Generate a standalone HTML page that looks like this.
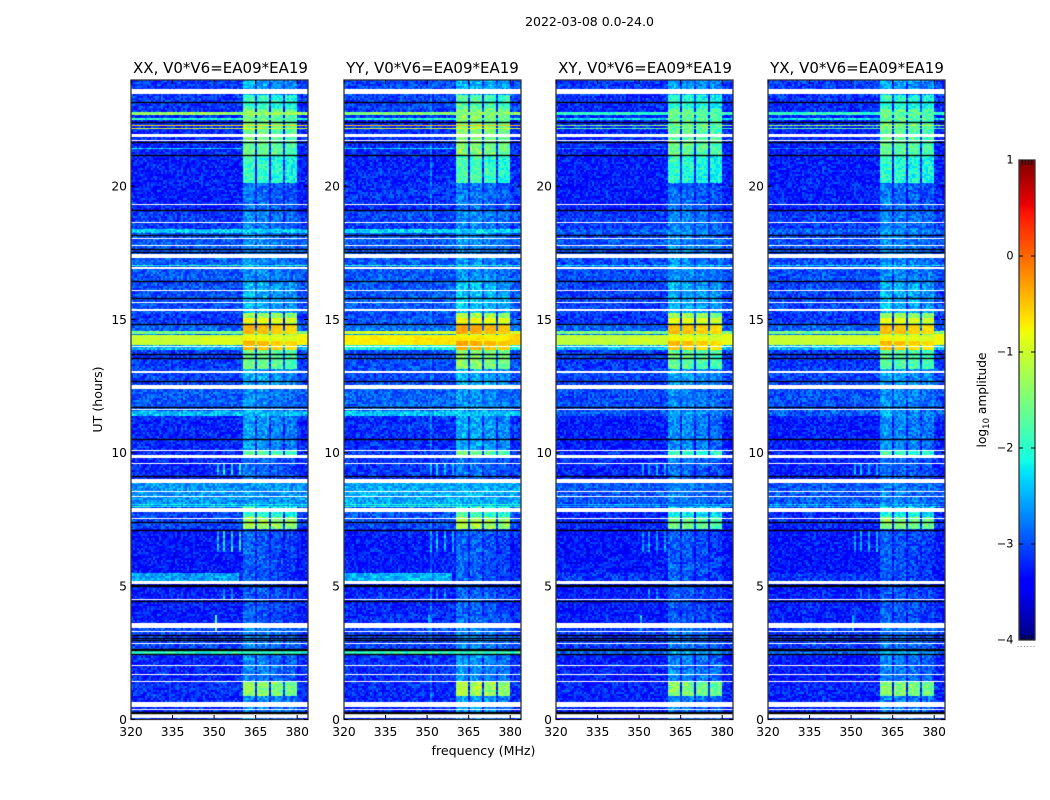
<!DOCTYPE html>
<html lang="en">
<head>
<meta charset="utf-8">
<title>2022-03-08 0.0-24.0</title>
<style>
html,body{margin:0;padding:0;background:#fff;}
#figure{position:relative;width:1050px;height:800px;overflow:hidden;background:#fff;font-family:"DejaVu Sans","Liberation Sans",sans-serif;}
canvas{position:absolute;display:block;}
svg{position:absolute;left:0;top:0;}
svg text{font-family:"DejaVu Sans","Liberation Sans",sans-serif;fill:#000;}
</style>
</head>
<body>
<div id="figure">
<svg id="overlay" width="1050" height="800" viewBox="0 0 1050 800"></svg>
</div>
<script>
// ---- Categories and tick labels ----
const panelTitles = ["XX, V0*V6=EA09*EA19", "YY, V0*V6=EA09*EA19", "XY, V0*V6=EA09*EA19", "YX, V0*V6=EA09*EA19"];
const freqTicks = [320, 335, 350, 365, 380];
const utTicks = [0, 5, 10, 15, 20];
const colorbarTicks = [1, 0, -1, -2, -3, -4];

// ---- Time bands (UT hours): edges, then log10 amplitude per band ----
const bandEdges = [0,0.9,1.42,2.49,2.6,3.45,5.21,7.18,7.6,8.0,8.9,9.94,10.1,11.4,11.6,12.43,13.16,13.86,14.06,14.2,14.36,14.42,14.46,14.6,14.8,14.87,15.06,15.27,16.45,18.26,18.43,19.1,20.15,21.17,22.9,23.45,24];
const backgroundXX = [-3.2,-3.15,-3.2,-2.0,-3.05,-3.25,-3.3,-3.05,-3.05,-2.65,-3.2,-3.15,-3.2,-2.45,-2.95,-3.05,-3.1,-2.5,-1.05,-1.05,-1.05,-2.8,-1.55,-2.9,-3.1,-3.1,-3.1,-3.0,-2.95,-2.4,-3.1,-3.25,-3.25,-3.2,-3.1,-3.1];
const backgroundYY = [-3.2,-3.15,-3.15,-1.9,-3.05,-3.2,-3.25,-3.0,-3.0,-2.55,-3.1,-3.1,-3.15,-2.4,-2.9,-3.0,-3.0,-2.1,-0.72,-0.72,-0.72,-2.6,-0.95,-2.8,-3.0,-3.0,-3.0,-2.95,-2.95,-2.3,-3.05,-3.15,-3.2,-3.15,-3.05,-3.05];
const backgroundXY = [-3.25,-3.2,-3.25,-2.85,-3.1,-3.25,-3.3,-3.2,-3.2,-2.95,-3.2,-3.2,-3.25,-2.95,-3.0,-3.05,-3.1,-2.5,-1.1,-1.1,-1.1,-2.8,-1.5,-2.9,-3.1,-3.1,-3.1,-3.05,-3.0,-2.9,-3.1,-3.25,-3.25,-3.2,-3.15,-3.1];
const backgroundYX = [-3.25,-3.2,-3.25,-2.85,-3.1,-3.25,-3.3,-3.2,-3.2,-2.95,-3.2,-3.2,-3.25,-2.95,-3.0,-3.05,-3.1,-2.45,-1.05,-1.05,-1.05,-2.8,-1.5,-2.9,-3.1,-3.1,-3.1,-3.05,-3.0,-2.9,-3.1,-3.25,-3.25,-3.2,-3.15,-3.1];
const chunkXX = [-2.7,-1.4,-2.75,-2.2,-2.75,-2.95,-2.95,-1.3,-2.0,-2.65,-2.85,-1.7,-2.65,-2.55,-2.7,-2.55,-1.6,-0.5,-0.45,-0.8,-0.9,-1.2,-0.45,-0.45,-1.5,-0.8,-1.3,-2.5,-2.7,-2.55,-2.75,-2.85,-1.95,-1.6,-1.95,-2.55];
const chunkYY = [-2.6,-1.2,-2.65,-2.1,-2.7,-2.9,-2.9,-1.2,-1.9,-2.55,-2.8,-1.6,-2.55,-2.45,-2.65,-2.5,-1.4,-0.4,-0.35,-0.7,-0.8,-1.1,-0.35,-0.35,-1.3,-0.75,-1.2,-2.4,-2.65,-2.45,-2.7,-2.8,-1.85,-1.45,-1.75,-2.5];
const chunkXY = [-2.75,-1.5,-2.75,-2.45,-2.8,-2.95,-2.95,-1.6,-2.2,-2.75,-2.85,-1.9,-2.7,-2.6,-2.7,-2.6,-1.7,-0.55,-0.45,-0.8,-0.9,-1.2,-0.45,-0.5,-1.5,-0.85,-1.3,-2.5,-2.7,-2.65,-2.75,-2.85,-2.0,-1.65,-2.0,-2.6];
const chunkYX = [-2.75,-1.45,-2.75,-2.45,-2.8,-2.95,-2.95,-1.5,-2.15,-2.75,-2.85,-1.85,-2.7,-2.6,-2.7,-2.6,-1.7,-0.55,-0.45,-0.8,-0.9,-1.2,-0.45,-0.5,-1.5,-0.85,-1.3,-2.5,-2.7,-2.65,-2.75,-2.85,-2.0,-1.65,-2.0,-2.6];

// ---- Frequency chunks (MHz) where the band-limited signal lives ----
const chunkStartMHz = [360.4, 365.7, 370.5, 375.5];
const chunkEndMHz = [365, 370, 375, 380];
const chunkOffsets = [0.05, 0, -0.08, -0.15];

// ---- Localised features: UT start, UT end, MHz start, MHz end, level XX, YY, XY, YX ----
const featureA = [5.21,5.5,320,359,-2.6,-2.5,-3.1,-3.1];
const featureB = [22.69,22.8,320,384,-1.3,-1.4,-2.0,-1.9];
const featureC = [22.5,22.56,320,384,-2.0,-2.0,-2.3,-2.3];
const featureD = [22.27,22.33,320,384,-0.6,-0.45,-1.4,-1.3];
const featureE = [22.15,22.2,320,384,-0.95,-0.9,-1.7,-1.6];
const featureF = [21.41,21.45,320,360,-2.3,-2.3,-2.8,-2.8];
const featureG = [17.04,17.08,320,384,-2.0,-2.0,-2.3,-2.3];
const featureH = [8.05,8.09,320,384,-2.1,-2.0,-2.5,-2.5];
const featureI = [7.97,8.02,320,384,-2.1,-2.0,-2.5,-2.5];
const featureJ = [14.06,14.36,345,360,-0.92,-0.66,-1.0,-0.95];
const featureK = [14.06,14.46,380,384,-0.75,-0.55,-0.85,-0.8];
const featureL = [3.3,3.95,350,350.7,-1.7,-2.6,-2.3,-2.5];
const featureM = [0,24,351,351.7,-3.5,-2.8,-3.5,-3.5];
const featureN = [6.3,7.1,350.9,351.6,-2.5,-2.6,-2.7,-2.7];
const featureO = [6.3,7.1,353.3,354,-2.3,-2.5,-2.6,-2.6];
const featureP = [6.3,7.1,356,356.7,-2.3,-2.5,-2.6,-2.6];
const featureQ = [6.3,7.1,358.7,359.4,-2.3,-2.5,-2.6,-2.6];
const featureR = [9.2,9.6,351,351.7,-2.4,-2.5,-2.6,-2.6];
const featureS = [9.2,9.6,353.3,354,-2.2,-2.4,-2.5,-2.5];
const featureT = [9.2,9.6,356,356.7,-2.2,-2.4,-2.5,-2.5];
const featureU = [9.2,9.6,358.7,359.4,-2.2,-2.4,-2.5,-2.5];
const featureV = [4.55,4.9,353.3,354,-2.6,-2.7,-2.8,-2.8];
const featureW = [4.55,4.9,356,356.7,-2.6,-2.7,-2.8,-2.8];
const cellFeatures = [featureA,featureB,featureC,featureD,featureE,featureF,featureG,featureH,featureI,featureJ,featureK,featureL,featureM,featureN,featureO,featureP,featureQ,featureR,featureS,featureT,featureU,featureV,featureW];

// ---- Flagged (white) intervals and zero-amplitude (black) lines in UT hours ----
const flaggedStarts = [0.07,0.37,0.49,1.44,1.69,2.02,2.85,3.29,3.45,4.5,5.09,7.55,7.8,8.35,8.55,8.89,9.6,9.81,10.08,11.64,12.43,13.03,14.0,15.34,15.64,16.09,16.93,17.31,17.79,18.04,18.63,19.31,21.71,21.88,21.94,23.46];
const flaggedEnds = [0.24,0.41,0.67,1.48,1.73,2.06,2.89,3.33,3.64,4.54,5.21,7.59,7.96,8.39,8.59,9.05,9.64,9.94,10.12,11.68,12.58,13.07,14.04,15.41,15.68,16.13,16.97,17.49,17.83,18.08,18.67,19.35,21.75,21.92,21.98,23.67];
const blackLines = [0.28,0.31,2.47,2.62,2.66,3.01,3.08,3.19,4.46,5.02,5.06,7.14,7.42,9.15,10.52,11.75,12.71,13.59,13.74,14.85,15.84,16.45,17.55,17.65,18.2,19.11,21.17,21.67,22.41,23.19];

// Hand-written per-cell scatter: individual cell noise cannot be read from the picture, so this short zero-mean pattern is repeated for texture.
const cellScatter = [-0.22,0.08,0.31,-0.12,-0.3,0.15,0.02,-0.18,0.42,-0.05,-0.26,0.2,-0.1,0.05,-0.33,0.26,-0.15,0.11,0.36,-0.24,-0.02,0.17,-0.29,0.07,-0.14,0.3,-0.08,-0.2,0.12,0.22,-0.35,0.03,0.19,-0.11,-0.27,0.38,-0.06,0.09,-0.17,0.24,-0.31,0.14,-0.04,0.28,-0.21,-0.09,0.06,0.33,-0.25,0.01,-0.13,0.16,-0.19];

const panelBackgrounds = [backgroundXX, backgroundYY, backgroundXY, backgroundYX];
const panelChunks = [chunkXX, chunkYY, chunkXY, chunkYX];

// ---- Layout and axis functions ----
const panelLefts = [131, 344, 556, 768];
const titleCenters = [220.5, 432.5, 645, 857];
const panelW = 177, panelH = 640, panelTop = 80;
const freqMin = 320, freqMax = 383.9, utMin = 0, utMax = 24;
const cellW = 2, cellH = 1;
function xScale(mhz){ return (mhz - freqMin) / (freqMax - freqMin) * panelW; }
function yScale(ut){ return panelH - (ut - utMin) / (utMax - utMin) * panelH; }
function freqAt(px){ return freqMin + px / panelW * (freqMax - freqMin); }
function utAt(py){ return utMin + (panelH - py) / panelH * (utMax - utMin); }

// ---- Jet colormap over log10 amplitude -4..1 ----
function ramp(stops, t){
  for (let i = 1; i < stops.length; i++){
    if (t <= stops[i][0]){
      const a = stops[i-1], b = stops[i];
      return a[1] + (b[1]-a[1]) * (t-a[0]) / (b[0]-a[0]);
    }
  }
  return stops[stops.length-1][1];
}
const jetR = [[0,0],[0.35,0],[0.66,1],[0.89,1],[1,0.5]];
const jetG = [[0,0],[0.125,0],[0.375,1],[0.64,1],[0.91,0],[1,0]];
const jetB = [[0,0.5],[0.11,1],[0.34,1],[0.65,0],[1,0]];
function jetColor(t){
  t = Math.max(0, Math.min(1, t));
  return "rgb(" + Math.round(ramp(jetR,t)*255) + "," + Math.round(ramp(jetG,t)*255) + "," + Math.round(ramp(jetB,t)*255) + ")";
}
const colorLut = [];
for (let i = 0; i <= 400; i++) colorLut.push(jetColor(i/400));
function levelColor(level){
  const t = (level + 4) / 5;
  return colorLut[Math.max(0, Math.min(400, Math.round(t*400)))];
}

function bandIndex(ut){
  for (let b = 0; b < bandEdges.length - 1; b++){
    if (ut < bandEdges[b+1]) return b;
  }
  return bandEdges.length - 2;
}
function chunkIndex(mhz){
  for (let c = 0; c < chunkStartMHz.length; c++){
    if (mhz >= chunkStartMHz[c] && mhz <= chunkEndMHz[c]) return c;
  }
  return -1;
}

// ---- Heatmap drawing ----
const figure = document.getElementById("figure");
panelTitles.forEach(function(title, p){
  const canvas = document.createElement("canvas");
  
  
  canvas.width = panelW;
  canvas.height = panelH;
  canvas.style.left = panelLefts[p] + "px";
  canvas.style.top = panelTop + "px";
  figure.insertBefore(canvas, figure.firstChild);
  const ctx = canvas.getContext("2d");
  const bg = panelBackgrounds[p], ch = panelChunks[p];
  for (let py = 0; py < panelH; py += cellH){
    const ut = utAt(py + 0.5);
    const band = bandIndex(ut);
    const r2 = Math.floor(py / 2);
    for (let px = 0; px < panelW; px += cellW){
      const col = px / cellW;
      const mhz = freqAt(px + cellW / 2);
      let level = bg[band];
      const c = chunkIndex(mhz);
      if (c >= 0) level = Math.max(level, ch[band] + chunkOffsets[c]);
      for (let f = 0; f < cellFeatures.length; f++){
        const ft = cellFeatures[f];
        if (ut >= ft[0] && ut < ft[1] && mhz >= ft[2] && mhz < ft[3]) level = Math.max(level, ft[4+p]);
      }
      const k = (col*col*3 + r2*r2*5 + col*r2*7 + col*11 + r2*2 + p*19) % cellScatter.length;
      const amp = level > -1.2 ? 0.25 : 0.9;
      ctx.fillStyle = levelColor(level + cellScatter[k] * amp);
      ctx.fillRect(px, py, cellW, cellH);
    }
  }
  ctx.fillStyle = "#fff";
  flaggedStarts.forEach(function(start, i){
    const y0 = Math.round(yScale(flaggedEnds[i])), y1 = Math.round(yScale(start));
    ctx.fillRect(0, y0, panelW, Math.max(1, y1 - y0));
  });
  ctx.fillStyle = "#000";
  blackLines.forEach(function(ut){
    ctx.fillRect(0, Math.round(yScale(ut)) - 0.2, panelW, 1.4);
  });
});

// ---- SVG annotations ----
const SVGNS = "http://www.w3.org/2000/svg";
const overlay = document.getElementById("overlay");
function svgEl(tag, attrs, parent, txt){
  const el = document.createElementNS(SVGNS, tag);
  for (const key in attrs) el.setAttribute(key, attrs[key]);
  if (txt !== undefined) el.textContent = txt;
  (parent || overlay).appendChild(el);
  return el;
}
panelTitles.forEach(function(title, p){
  const L = panelLefts[p];
  const pol = title.slice(0,2).toLowerCase();
  const g = svgEl("g", {}, overlay);
  
  
  const frame = svgEl("rect", {x:L, y:panelTop, width:panelW, height:panelH-0.5, fill:"none", stroke:"#333", "stroke-width":1.3}, g);
  
  
  const t = svgEl("text", {x:titleCenters[p], y:73, "text-anchor":"middle", "font-size":15}, g, title);
  
  
  freqTicks.forEach(function(v){
    const x = L + xScale(v);
    const b = svgEl("line", {x1:x, x2:x, y1:panelTop+panelH-1, y2:panelTop+panelH-5, stroke:"#000", "stroke-width":1}, g);
    
    
    const u = svgEl("line", {x1:x, x2:x, y1:panelTop, y2:panelTop+4, stroke:"#000", "stroke-width":1}, g);
    
    
    const lab = svgEl("text", {x:x, y:736, "text-anchor":"middle", "font-size":12.3}, g, String(v));
    
    
  });
  utTicks.forEach(function(v){
    const y = panelTop + yScale(v) - 0.5;
    const l = svgEl("line", {x1:L, x2:L+4, y1:y, y2:y, stroke:"#000", "stroke-width":1}, g);
    
    
    const r = svgEl("line", {x1:L+panelW-4, x2:L+panelW, y1:y, y2:y, stroke:"#000", "stroke-width":1}, g);
    
    
    const lab = svgEl("text", {x:L-4, y:y+4.3, "text-anchor":"end", "font-size":12.3}, g, String(v));
    
    
  });
});

const figTitle = svgEl("text", {x:589.5, y:26, "text-anchor":"middle", "font-size":12.5}, overlay, "2022-03-08 0.0-24.0");


const xTitle = svgEl("text", {x:483.5, y:755, "text-anchor":"middle", "font-size":12.6}, overlay, "frequency (MHz)");


const yTitle = svgEl("text", {x:0, y:0, transform:"translate(102,399.5) rotate(-90)", "text-anchor":"middle", "font-size":12.6}, overlay, "UT (hours)");



// ---- Colorbar ----
const cbLeft = 1019, cbTop = 160, cbW = 16, cbH = 480;
function cbScale(v){ return cbTop + (1 - v) / 5 * cbH; }
const cbCanvas = document.createElement("canvas");


cbCanvas.width = cbW;
cbCanvas.height = cbH;
cbCanvas.style.left = cbLeft + "px";
cbCanvas.style.top = cbTop + "px";
figure.insertBefore(cbCanvas, figure.firstChild);
const cbCtx = cbCanvas.getContext("2d");
for (let y = 0; y < cbH; y++){
  cbCtx.fillStyle = jetColor(1 - (y + 0.5) / cbH);
  cbCtx.fillRect(0, y, cbW, 1);
}
const cbGroup = svgEl("g", {}, overlay);


const cbFrame = svgEl("rect", {x:cbLeft, y:cbTop, width:cbW, height:cbH, fill:"none", stroke:"#333", "stroke-width":1.3}, cbGroup);


colorbarTicks.forEach(function(v){
  const y = cbScale(v);
  const lab = svgEl("text", {x:1013.5, y:y+3.5, "text-anchor":"end", "font-size":11.3}, cbGroup, v < 0 ? "\u2212" + Math.abs(v) : String(v));
  
  
  if (v < 1 && v > -4){
    const a = svgEl("line", {x1:cbLeft, x2:cbLeft+4, y1:y, y2:y, stroke:"#000", "stroke-width":1}, cbGroup);
    
    
    const b = svgEl("line", {x1:cbLeft+cbW-4, x2:cbLeft+cbW, y1:y, y2:y, stroke:"#000", "stroke-width":1}, cbGroup);
    
    
  }
});
[0.2, 0.4, 0.6, 0.8].forEach(function(frac){
  const x = cbLeft + frac * cbW;
  const a = svgEl("line", {x1:x, x2:x, y1:cbTop, y2:cbTop+5, stroke:"#000", "stroke-width":1}, cbGroup);
  
  
  const b = svgEl("line", {x1:x, x2:x, y1:cbTop+cbH-5, y2:cbTop+cbH, stroke:"#000", "stroke-width":1}, cbGroup);
  
  
});
[0, 0.2, 0.4, 0.6, 0.8, 1].forEach(function(frac){
  const d = svgEl("rect", {x:cbLeft - 1.5 + frac * cbW, y:646, width:1, height:1, fill:"#888"}, cbGroup);
  
  
});
const cbLabel = svgEl("text", {x:0, y:0, transform:"translate(986,400) rotate(-90)", "text-anchor":"middle", "font-size":12.2}, overlay);


svgEl("tspan", {}, cbLabel, "log");
svgEl("tspan", {dy:3, "font-size":8.5}, cbLabel, "10");
svgEl("tspan", {dy:-3}, cbLabel, " amplitude");
</script>
</body>
</html>
